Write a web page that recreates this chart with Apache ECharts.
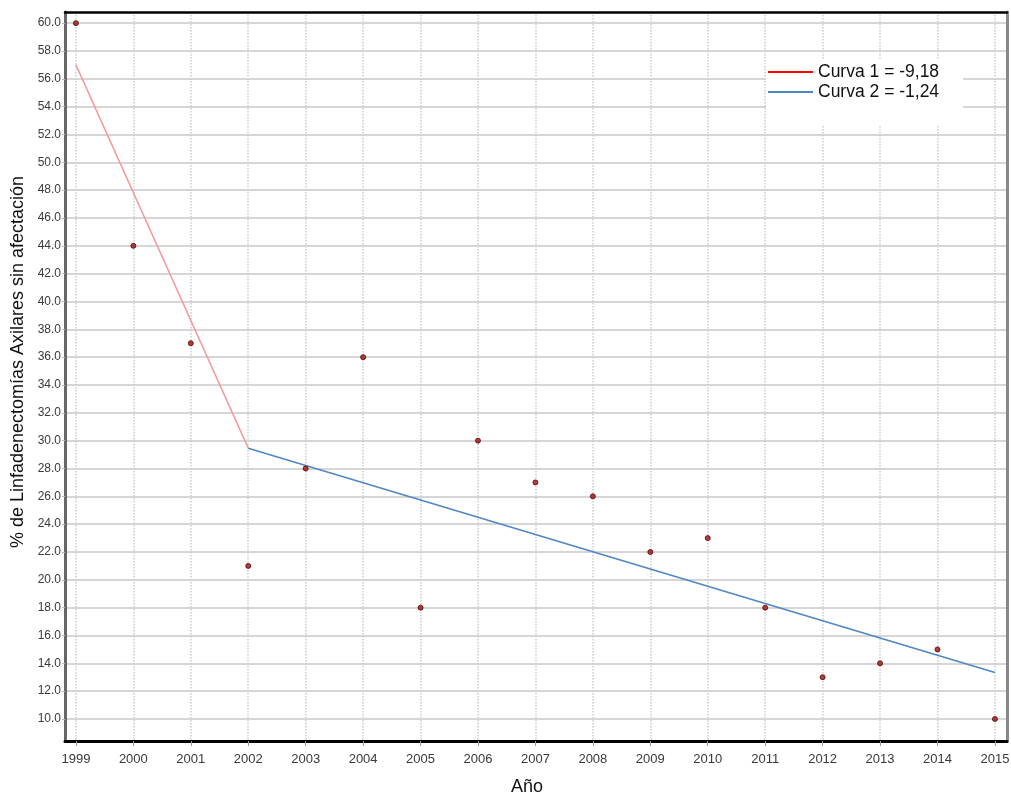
<!DOCTYPE html>
<html>
<head>
<meta charset="utf-8">
<script src="https://cdn.jsdelivr.net/npm/echarts@6/dist/echarts.min.js"></script>
<style>
  html, body { margin: 0; padding: 0; background: #fff; }
  #chart { width: 1011px; height: 799px; }
</style>
</head>
<body>
<div id="chart"></div>
<script>
// Yearly share of axillary lymphadenectomies without involvement
const years = [1999, 2000, 2001, 2002, 2003, 2004, 2005, 2006, 2007, 2008, 2009, 2010, 2011, 2012, 2013, 2014, 2015];
const pct = [60, 44, 37, 21, 28, 36, 18, 30, 27, 26, 22, 23, 18, 13, 14, 15, 10];

// Joinpoint segments (start / end of each fitted trend)
const curve1Years = [1999, 2002];
const curve1Vals = [57.0, 29.46];
const curve2Years = [2002, 2015];
const curve2Vals = [29.46, 13.34];

const curve1Name = 'Curva 1 = -9,18';
const curve2Name = 'Curva 2 = -1,24';

const yTicks = [10, 12, 14, 16, 18, 20, 22, 24, 26, 28, 30, 32, 34, 36, 38, 40, 42, 44, 46, 48, 50, 52, 54, 56, 58, 60];
const xTicks = years;

const xMin = 1998.81, xMax = 2015.21;
const yMin = 8.42, yMax = 60.8;

const zip = (xs, ys) => xs.map((x, i) => [x, ys[i]]);

const font = "'Liberation Sans', Arial, sans-serif";
const narrow = "'Liberation Sans Narrow', 'Liberation Sans', Arial, sans-serif";

const chart = echarts.init(document.getElementById('chart'), null, { renderer: 'canvas' });

chart.setOption({
  animation: false,
  backgroundColor: '#ffffff',
  grid: { left: 65, right: 4, top: 12, bottom: 58, containLabel: false, outerBoundsMode: 'none' },
  xAxis: [
    {
      type: 'value', min: xMin, max: xMax, position: 'bottom',
      axisLine: { show: true, onZero: false, lineStyle: { color: '#000', width: 3 } },
      axisTick: { show: true, customValues: xTicks, length: 5, lineStyle: { color: '#999', width: 1 } },
      axisLabel: {
        customValues: xTicks, margin: 12, color: '#3a3a3a',
        fontFamily: narrow, fontSize: 13, formatter: v => String(v)
      },
      splitLine: { show: true, lineStyle: { color: '#cdcdcd', width: 1.5, type: [1.5, 1.5] } }
    },
    {
      type: 'value', min: xMin, max: xMax, position: 'top',
      axisLine: { show: true, onZero: false, lineStyle: { color: '#000', width: 2.5 } },
      axisTick: { show: false }, axisLabel: { show: false }, splitLine: { show: false }
    }
  ],
  yAxis: [
    {
      type: 'value', min: yMin, max: yMax, position: 'left',
      axisLine: { show: true, onZero: false, lineStyle: { color: '#666', width: 3 } },
      axisTick: { show: true, customValues: yTicks, length: 3, lineStyle: { color: '#bbb', width: 1 } },
      axisLabel: {
        customValues: yTicks, margin: 4, color: '#3a3a3a',
        fontFamily: narrow, fontSize: 12, formatter: v => v.toFixed(1)
      },
      splitLine: { show: true, lineStyle: { color: '#c8c8c8', width: 1.5 } }
    },
    {
      type: 'value', min: yMin, max: yMax, position: 'right',
      axisLine: { show: true, onZero: false, lineStyle: { color: '#888', width: 3 } },
      axisTick: { show: false }, axisLabel: { show: false }, splitLine: { show: false }
    }
  ],
  legend: {
    orient: 'vertical', left: 766, top: 59,
    backgroundColor: '#ffffff',
    padding: [4, 24, 24, 2],
    itemWidth: 45, itemHeight: 14, itemGap: 2,
    textStyle: { fontFamily: font, fontSize: 17.5, lineHeight: 18, color: '#111' },
    data: [
      { name: curve1Name, icon: 'path://M0,0 L45,0 L45,2 L0,2 Z', itemStyle: { color: '#ff0000' } },
      { name: curve2Name, icon: 'path://M0,0 L45,0 L45,2 L0,2 Z', itemStyle: { color: '#4f86c6' } }
    ]
  },
  graphic: [
    {
      type: 'text', x: 18, y: 362, rotation: Math.PI / 2,
      style: {
        text: '% de Linfadenectomías Axilares sin afectación',
        fontFamily: font, fontSize: 18, fill: '#111',
        align: 'center', verticalAlign: 'middle'
      }
    },
    {
      type: 'text', x: 527, y: 787,
      style: {
        text: 'Año',
        fontFamily: font, fontSize: 18, fill: '#111',
        align: 'center', verticalAlign: 'middle'
      }
    }
  ],
  series: [
    {
      name: curve1Name, type: 'line', data: zip(curve1Years, curve1Vals),
      symbol: 'none', z: 2,
      lineStyle: { color: '#f49a9a', width: 1.5 }, itemStyle: { color: '#ff0000' }
    },
    {
      name: curve2Name, type: 'line', data: zip(curve2Years, curve2Vals),
      symbol: 'none', z: 2,
      lineStyle: { color: '#4f86c6', width: 1.5 }, itemStyle: { color: '#4f86c6' }
    },
    {
      name: 'Observado', type: 'scatter', data: zip(years, pct),
      symbol: 'circle', symbolSize: 5, z: 3,
      itemStyle: { color: '#a01010', borderColor: '#5a0000', borderWidth: 1 }
    }
  ]
});
</script>
</body>
</html>
